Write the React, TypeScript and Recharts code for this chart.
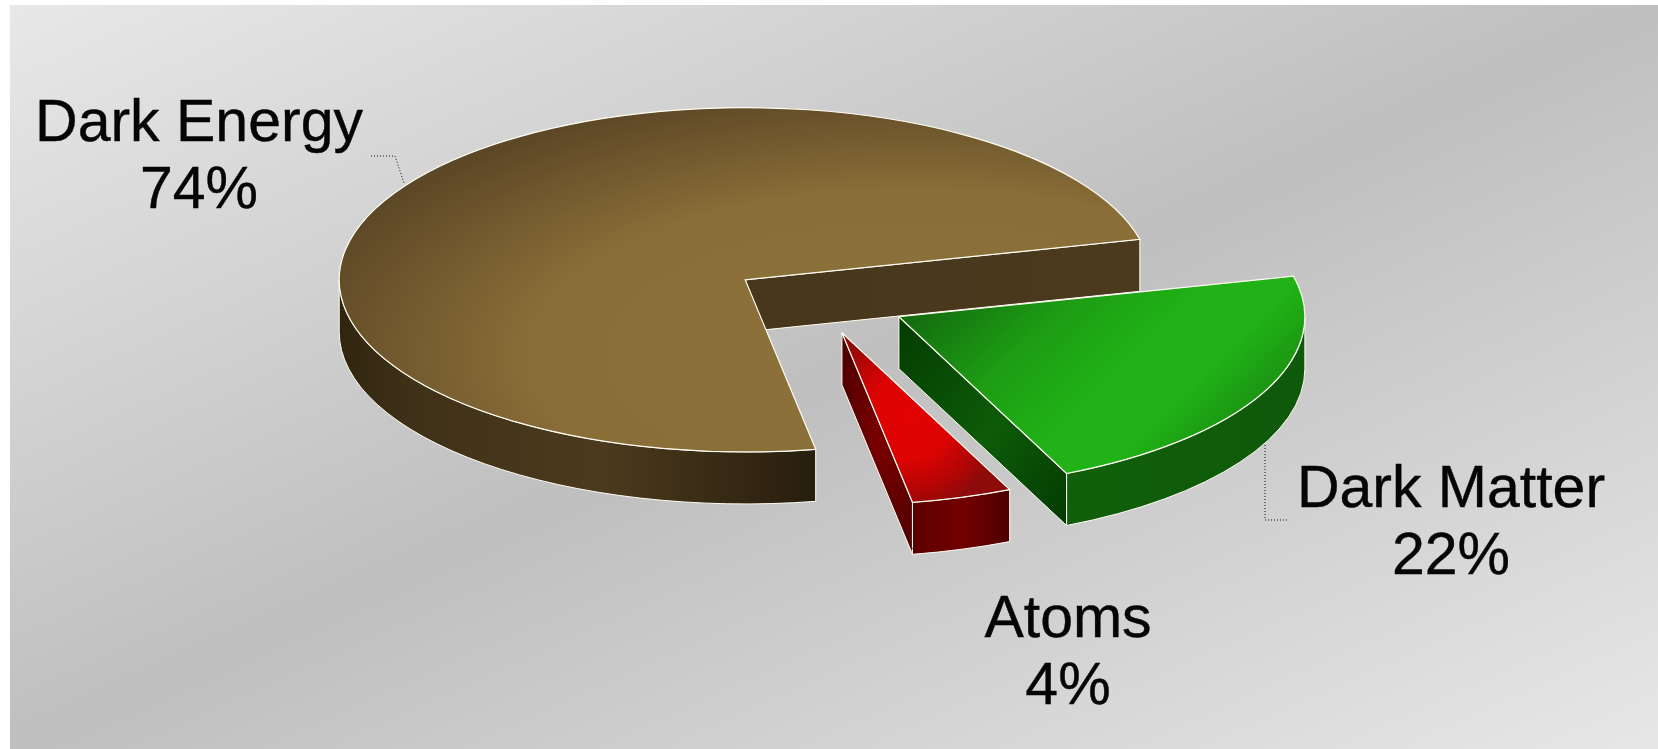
import React from "react";
import { Pie, PieChart } from "recharts";

const sliceNames = ["Dark Energy", "Atoms", "Dark Matter"];
const sliceValues = [74, 4, 22];

const chartData = sliceNames.map((name, i) => ({ name, value: sliceValues[i] }));

// squashed 3D look: vertical scale of the disc, wall height, how far each slice pulls out
const TILT = 0.424;
const DEPTH = 52;
const explode = [87, 81, 90];

const RAD = Math.PI / 180;

const sliceIds = ["energy", "atoms", "matter"];

// where each two-line label sits, and its dotted leader if it has one
const labelSpots = [
  { x: 199, y: 141, leader: "M371 156 L395 156 L404 183" },
  { x: 1068, y: 637, leader: "M845 384 L914 552" },
  { x: 1451, y: 507, leader: "M1265 445 L1265 520 L1288 520" },
];

function point(cx: number, cy: number, r: number, deg: number, drop = 0) {
  return {
    x: cx + r * Math.cos(deg * RAD),
    y: cy - r * TILT * Math.sin(deg * RAD) + drop,
  };
}

// part of the arc that faces the viewer (lower half of the ellipse)
function frontArc(start: number, end: number) {
  for (const k of [0, 360]) {
    const a = Math.max(start, 180 + k);
    const b = Math.min(end, 360 + k);
    if (a < b) return [a, b];
  }
  return null;
}

function Slice3D(props: any) {
  const { cx, cy, outerRadius: r, startAngle, endAngle, midAngle, index } = props;
  const id = sliceIds[index];
  const ox = cx + explode[index] * Math.cos(midAngle * RAD);
  const oy = cy - explode[index] * TILT * Math.sin(midAngle * RAD);
  const ry = r * TILT;
  const from = point(ox, oy, r, startAngle);
  const to = point(ox, oy, r, endAngle);
  const large = endAngle - startAngle > 180 ? 1 : 0;

  const top = `M${ox} ${oy} L${from.x} ${from.y} A${r} ${ry} 0 ${large} 0 ${to.x} ${to.y} Z`;
  const wall = (p: { x: number; y: number }) =>
    `M${ox} ${oy} L${p.x} ${p.y} L${p.x} ${p.y + DEPTH} L${ox} ${oy + DEPTH} Z`;

  const arc = frontArc(startAngle, endAngle);
  let rim = "";
  if (arc) {
    const a = point(ox, oy, r, arc[0]);
    const b = point(ox, oy, r, arc[1]);
    rim =
      `M${a.x} ${a.y} A${r} ${ry} 0 0 0 ${b.x} ${b.y} L${b.x} ${b.y + DEPTH} ` +
      `A${r} ${ry} 0 0 1 ${a.x} ${a.y + DEPTH} Z`;
  }

  const cosStart = Math.cos(startAngle * RAD);
  const cosEnd = Math.cos(endAngle * RAD);

  return (
    <g>
      {cosStart > 0 && <path d={wall(from)} fill={`url(#${id}-wall)`} stroke="#fffdf2" strokeWidth={1} />}
      {cosEnd < 0 && <path d={wall(to)} fill={`url(#${id}-wall)`} stroke="#fffdf2" strokeWidth={1} />}
      {rim && <path d={rim} fill={`url(#${id}-rim)`} stroke="#fffdf2" strokeWidth={1} />}
      <path d={top} fill={`url(#${id}-top)`} stroke="#fffdf2" strokeWidth={1.2} />
    </g>
  );
}

function SliceLabel(props: any) {
  const { index, name, value } = props;
  const spot = labelSpots[index];
  const textProps = {
    x: spot.x,
    textAnchor: "middle" as const,
    fontFamily: "Liberation Sans",
    fontSize: 59,
    fill: "#050505",
    stroke: "#050505",
    strokeWidth: 0.4,
  };
  return (
    <g>
      <path d={spot.leader} fill="none" stroke="#111" strokeWidth={1} strokeDasharray="1 2" />
      <text {...textProps} y={spot.y}>
        {name}
      </text>
      <text {...textProps} y={spot.y + 67}>
        {value}%
      </text>
    </g>
  );
}

export default function App() {
  return (
    <div style={{ position: "absolute", left: 0, top: 0, width: 1658, height: 749, background: "#fff" }}>
      <PieChart width={1658} height={749} margin={{ top: 0, right: 0, bottom: 0, left: 0 }}>
        <defs>
          <linearGradient id="panel" x1="0" y1="0" x2="1" y2="1">
            <stop offset="0" stopColor="#e8e8e8" />
            <stop offset="0.5" stopColor="#bfbfbf" />
            <stop offset="1" stopColor="#e7e7e7" />
          </linearGradient>

          <radialGradient id="energy-top" cx="0.72" cy="0.72" r="0.8">
            <stop offset="0" stopColor="#8d713a" />
            <stop offset="0.6" stopColor="#8a6e38" />
            <stop offset="1" stopColor="#5c4726" />
          </radialGradient>
          <linearGradient id="energy-rim" x1="0" y1="0" x2="1" y2="0">
            <stop offset="0" stopColor="#30250f" />
            <stop offset="0.15" stopColor="#3f3118" />
            <stop offset="0.55" stopColor="#4b3a1d" />
            <stop offset="1" stopColor="#281e0e" />
          </linearGradient>
          <linearGradient id="energy-wall" x1="0" y1="0" x2="1" y2="0">
            <stop offset="0" stopColor="#46361b" />
            <stop offset="1" stopColor="#4b3a1e" />
          </linearGradient>

          <radialGradient id="atoms-top" cx="0.4" cy="0.5" r="0.55">
            <stop offset="0" stopColor="#e20202" />
            <stop offset="0.45" stopColor="#dc0303" />
            <stop offset="0.8" stopColor="#b00505" />
            <stop offset="1" stopColor="#8e0b0b" />
          </radialGradient>
          <linearGradient id="atoms-rim" x1="0" y1="0" x2="1" y2="0">
            <stop offset="0" stopColor="#5c0000" />
            <stop offset="0.5" stopColor="#720000" />
            <stop offset="1" stopColor="#4e0000" />
          </linearGradient>
          <linearGradient id="atoms-wall" x1="0" y1="0" x2="1" y2="1">
            <stop offset="0" stopColor="#4a0000" />
            <stop offset="0.5" stopColor="#7a0000" />
            <stop offset="1" stopColor="#500000" />
          </linearGradient>

          <linearGradient id="matter-top" x1="0" y1="0.2" x2="1" y2="0.7">
            <stop offset="0" stopColor="#12680e" />
            <stop offset="0.3" stopColor="#1d9c14" />
            <stop offset="0.55" stopColor="#20b216" />
            <stop offset="0.72" stopColor="#20b216" />
            <stop offset="0.85" stopColor="#1c9a13" />
            <stop offset="1" stopColor="#188a12" />
          </linearGradient>
          <linearGradient id="matter-rim" x1="0" y1="0" x2="1" y2="0">
            <stop offset="0" stopColor="#10600b" />
            <stop offset="1" stopColor="#0e590a" />
          </linearGradient>
          <linearGradient id="matter-wall" x1="0" y1="0" x2="1" y2="1">
            <stop offset="0" stopColor="#043c02" />
            <stop offset="0.55" stopColor="#0d5b08" />
            <stop offset="1" stopColor="#033a02" />
          </linearGradient>
        </defs>

        <rect x={10} y={5} width={1648} height={744} fill="url(#panel)" />

        <Pie
          data={chartData}
          dataKey="value"
          nameKey="name"
          cx={818}
          cy={300}
          innerRadius={0}
          outerRadius={406}
          startAngle={13.6}
          endAngle={373.6}
          paddingAngle={0}
          stroke="none"
          shape={Slice3D}
          label={SliceLabel}
          labelLine={false}
          isAnimationActive={false}
        />
      </PieChart>
    </div>
  );
}
